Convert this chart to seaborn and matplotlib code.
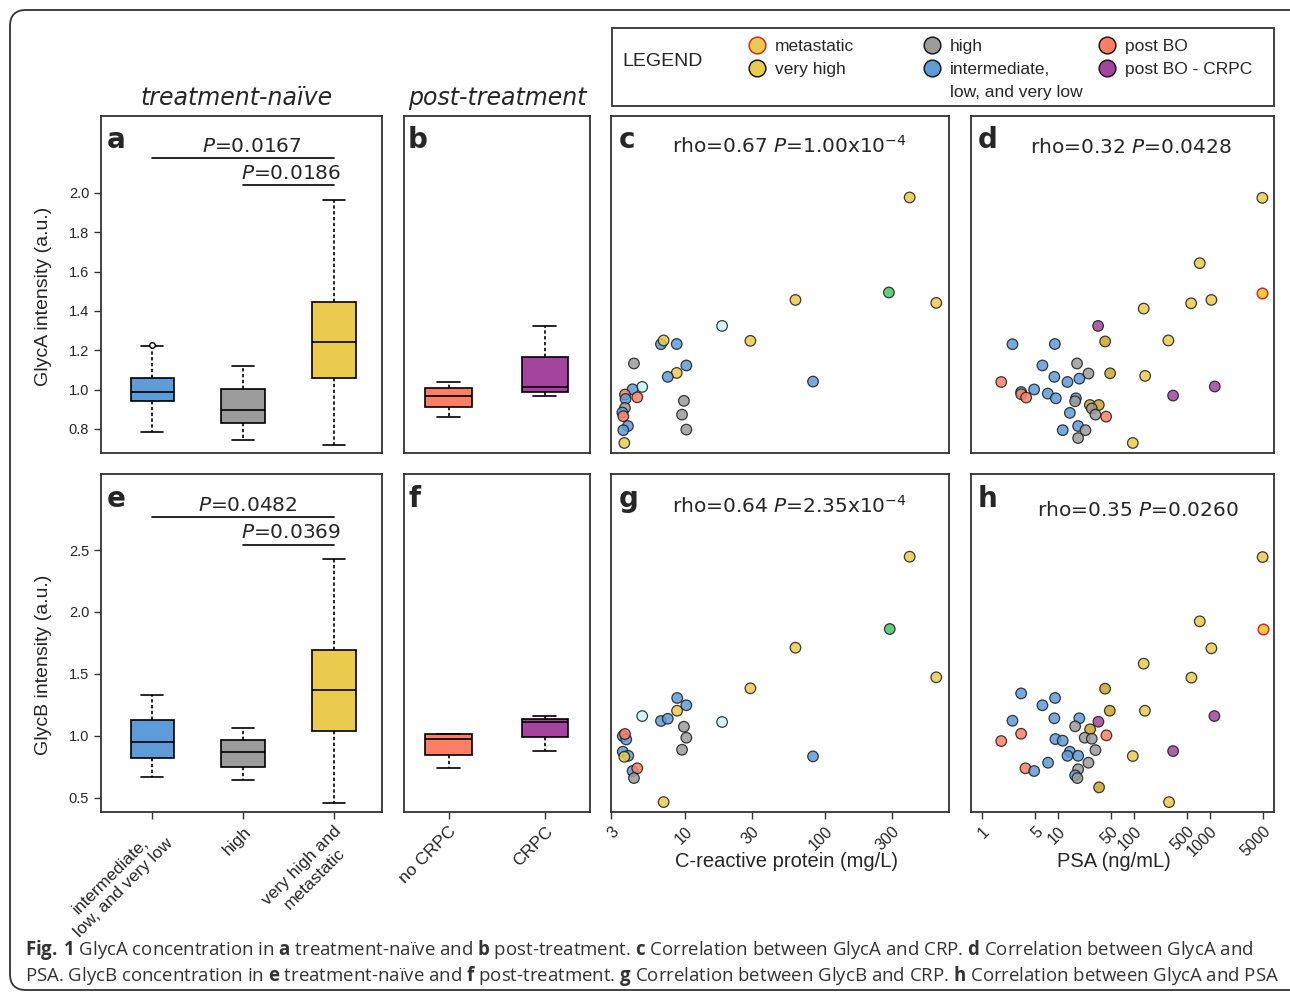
import numpy as np
import pandas as pd
import matplotlib
matplotlib.use("Agg")
import matplotlib.pyplot as plt
import seaborn as sns
from matplotlib import font_manager
from matplotlib.lines import Line2D
from matplotlib.patches import Rectangle, FancyBboxPatch
from matplotlib.transforms import IdentityTransform
from matplotlib.ticker import NullLocator

sns.set_style("ticks")
plt.rcParams["font.family"] = ["Liberation Sans", "DejaVu Sans"]
installed = {f.name for f in font_manager.fontManager.ttflist}
cap_font = "Liberation Sans Narrow" if "Liberation Sans Narrow" in installed else "Open Sans"
plt.rcParams["mathtext.fontset"] = "custom"
plt.rcParams["mathtext.rm"] = "DejaVu Sans"
plt.rcParams["mathtext.it"] = "DejaVu Sans:italic"
plt.rcParams["mathtext.bf"] = cap_font + ":bold"

# ---------------- data ----------------
# box plots: min, q1, median, q3, max per group
groups_naive = ["int", "high", "vhm"]
groups_post = ["nocrpc", "crpc"]
naive_labels = ["intermediate,\nlow, and very low", "high", "very high and\nmetastatic"]
post_labels = ["no CRPC", "CRPC"]

glyca_int = [0.787, 0.944, 0.987, 1.058, 1.224]
glyca_high = [0.746, 0.828, 0.899, 1.004, 1.122]
glyca_vhm = [0.721, 1.061, 1.241, 1.446, 1.966]
glyca_int_outlier = [1.226]
glyca_nocrpc = [0.861, 0.911, 0.968, 1.009, 1.039]
glyca_crpc = [0.968, 0.988, 1.012, 1.168, 1.322]

glycb_int = [0.664, 0.822, 0.952, 1.124, 1.326]
glycb_high = [0.645, 0.745, 0.871, 0.965, 1.060]
glycb_vhm = [0.454, 1.040, 1.369, 1.692, 2.427]
glycb_nocrpc = [0.736, 0.844, 0.976, 1.011, 1.016]
glycb_crpc = [0.876, 0.992, 1.108, 1.137, 1.159]

pvals_a = ["0.0167", "0.0186"]
pvals_e = ["0.0482", "0.0369"]

# scatter: GlycA vs CRP (c)
crp_c = [399, 284, 617, 61.5, 18.5, 29.4, 6.8, 7.1, 8.8, 4.37, 10.3, 8.8, 7.6, 82,
         5.0, 4.27, 4.61, 3.77, 3.81, 3.77, 3.61, 3.67, 9.9, 9.6, 10.3, 3.96, 3.67, 3.73]
glyca_c = [1.977, 1.494, 1.441, 1.456, 1.324, 1.248, 1.231, 1.250, 1.232, 1.133, 1.123, 1.085, 1.065, 1.041,
           1.014, 1.002, 0.961, 0.975, 0.953, 0.907, 0.884, 0.865, 0.943, 0.873, 0.797, 0.815, 0.794, 0.729]
grp_c = ["vh", "grn", "vh", "vh", "cyn", "vh", "int", "vh", "int", "hi", "int", "vh", "int", "int",
         "cyn", "int", "bo", "bo", "int", "hi", "int", "bo", "hi", "hi", "hi", "int", "int", "vh"]

# scatter: GlycA vs PSA (d)
psa_d = [4920, 738, 4920, 568, 1050, 135, 33.9, 41.9, 285, 2.53, 9.14, 17.9, 6.27, 25.3, 48.8, 141,
         9.0, 19.2, 13.4, 1.80, 1163, 4.88, 3.29, 3.29, 3.83, 7.38, 9.42, 329, 17.3, 16.9, 26.4, 34.6,
         28.0, 31.3, 43.2, 14.4, 18.5, 23.1, 11.6, 18.5, 97]
glyca_d = [1.975, 1.643, 1.492, 1.439, 1.456, 1.412, 1.324, 1.245, 1.250, 1.231, 1.232, 1.133, 1.123, 1.082,
           1.083, 1.070, 1.065, 1.056, 1.039, 1.039, 1.016, 1.001, 0.988, 0.977, 0.960, 0.980, 0.956, 0.970,
           0.956, 0.941, 0.922, 0.922, 0.904, 0.873, 0.863, 0.882, 0.815, 0.794, 0.794, 0.754, 0.729]
grp_d = ["vh", "vh", "meta", "vh", "vh", "vh", "crpc", "vh2", "vh", "int", "int", "hi", "int", "hi",
         "vh2", "vh", "int", "int", "int", "bo", "crpc", "int", "int", "bo", "bo", "int", "int", "crpc",
         "int", "hi", "vh2", "vh2", "hi", "hi", "bo", "int", "int", "hi", "int", "hi", "vh"]

# scatter: GlycB vs CRP (g)
crp_g = [399, 288, 61.5, 617, 29.4, 8.87, 10.3, 8.85, 5.0, 6.8, 7.6, 18.5, 9.9, 10.3, 9.6, 82,
         3.64, 3.85, 3.77, 3.64, 3.98, 3.73, 4.27, 4.61, 4.37, 7.1]
glycb_g = [2.446, 1.862, 1.711, 1.472, 1.383, 1.305, 1.246, 1.202, 1.159, 1.119, 1.137, 1.111, 1.073,
           0.984, 0.887, 0.833, 0.998, 0.970, 1.014, 0.871, 0.838, 0.830, 0.715, 0.737, 0.658, 0.464]
grp_g = ["vh", "grn", "vh", "vh", "vh", "int", "int", "vh", "cyn", "int", "int", "cyn", "hi",
         "hi", "hi", "int", "int", "int", "bo", "int", "int", "vh", "int", "bo", "hi", "vh"]

# scatter: GlycB vs PSA (h)
psa_h = [4960, 4960, 738, 1050, 135, 573, 41.9, 3.29, 9.2, 6.27, 48.3, 140, 1150, 2.53, 9.0, 19.2,
         34.2, 16.9, 26.6, 3.29, 43.6, 22.6, 28.0, 9.3, 11.6, 1.80, 31.3, 329, 14.4, 13.4, 18.5, 97,
         25.3, 7.44, 3.75, 4.88, 18.5, 16.9, 18.1, 34.9, 291]
glycb_h = [2.443, 1.862, 1.924, 1.706, 1.582, 1.469, 1.380, 1.342, 1.305, 1.246, 1.202, 1.202, 1.159,
           1.121, 1.141, 1.141, 1.113, 1.076, 1.052, 1.016, 1.003, 0.984, 0.976, 0.973, 0.960, 0.957,
           0.884, 0.876, 0.871, 0.838, 0.838, 0.836, 0.782, 0.782, 0.737, 0.715, 0.729, 0.680, 0.658,
           0.583, 0.464]
grp_h = ["vh", "meta", "vh", "vh", "vh", "vh", "vh2", "int", "int", "int", "vh2", "vh", "crpc", "int",
         "int", "int", "crpc", "hi", "vh2", "bo", "bo", "hi", "hi", "int", "int", "bo", "hi", "crpc",
         "int", "int", "int", "vh", "hi", "int", "bo", "int", "hi", "int", "hi", "vh2", "vh"]

rho_c = r"rho=0.67 $\mathit{P}$=1.00x10$^{-4}$"
rho_d = r"rho=0.32 $\mathit{P}$=0.0428"
rho_g = r"rho=0.64 $\mathit{P}$=2.35x10$^{-4}$"
rho_h = r"rho=0.35 $\mathit{P}$=0.0260"

crp_ticks = [3, 10, 30, 100, 300]
psa_ticks = [1, 5, 10, 50, 100, 500, 1000, 5000]

pal = {"meta": "#EBCB4E", "vh": "#EBCB4E", "vh2": "#C9A62B", "hi": "#9B9B9B", "int": "#5E9BD9",
       "bo": "#FF7F66", "crpc": "#A4449F", "grn": "#43C862", "cyn": "#C8F5F3"}
box_pal_naive = {"int": "#5E9BD9", "high": "#9B9B9B", "vhm": "#EBCB4E"}
box_pal_post = {"nocrpc": "#FF7F66", "crpc": "#A4449F"}

# ---------------- layout ----------------
W, H = 1290, 993
fig = plt.figure(figsize=(W / 100, H / 100), dpi=100)
fig.patch.set_facecolor("white")


def rect(x0, y0, x1, y1):
    return [x0 / W, 1 - y1 / H, (x1 - x0) / W, (y1 - y0) / H]


SPINE = "#333333"
ROW1_Y = (0.678, 2.391)
ROW2_Y = (0.384, 3.114)


def style_ax(ax):
    for s in ax.spines.values():
        s.set_visible(True)
        s.set_color(SPINE)
        s.set_linewidth(1.3)
    ax.tick_params(direction="out", length=5, width=1, color=SPINE)
    ax.set_xlabel("")
    ax.set_ylabel("")


def panel_letter(ax, letter, y=0.905):
    ax.text(0.022, y, letter, transform=ax.transAxes, fontsize=20, fontweight="bold",
            family="DejaVu Sans", va="baseline", ha="left")


def draw_box(ax, cats, values, palette):
    df = pd.DataFrame({"grp": np.repeat(cats, [len(v) for v in values]),
                       "val": np.concatenate(values)})
    sns.boxplot(data=df, x="grp", y="val", hue="grp", order=cats, hue_order=cats,
                palette=palette, saturation=1, width=0.48, whis=(0, 100), fliersize=0,
                linecolor="black", linewidth=1.2, legend=False, ax=ax,
                whiskerprops={"linestyle": (0, (2, 1.5))})


def p_bracket(ax, x0, x1, y, xt, text):
    ax.plot([x0, x1], [y, y], color="black", lw=1.2)
    ax.annotate(text, (xt, y), xytext=(0, 4.5), textcoords="offset points",
                ha="center", va="baseline", fontsize=14.5, family="DejaVu Sans")


def draw_scatter(ax, xs, ys, grps):
    df = pd.DataFrame({"x": xs, "y": ys, "grp": grps})
    main = df[df.grp != "meta"]
    sns.scatterplot(data=main, x="x", y="y", hue="grp", palette=pal, s=58,
                    edgecolor="#1a1a1a", linewidth=0.9, alpha=0.85, legend=False, ax=ax)
    meta = df[df.grp == "meta"]
    if len(meta):
        sns.scatterplot(data=meta, x="x", y="y", color=pal["meta"], s=58,
                        edgecolor="#E0281C", linewidth=1.1, legend=False, ax=ax)
    ax.set_xscale("log")


# panel a
ax_a = fig.add_axes(rect(101, 116, 382, 453))
draw_box(ax_a, groups_naive, [glyca_int, glyca_high, glyca_vhm], box_pal_naive)
sns.stripplot(x=["int"], y=glyca_int_outlier, order=groups_naive, jitter=False, color="white",
              edgecolor="black", linewidth=1, size=4, ax=ax_a, legend=False)
ax_a.set_xlim(-0.566, 2.53)
ax_a.set_ylim(*ROW1_Y)
style_ax(ax_a)
ax_a.set_yticks([0.8, 1.0, 1.2, 1.4, 1.6, 1.8, 2.0])
ax_a.set_yticklabels(["0.8", "1.0", "1.2", "1.4", "1.6", "1.8", "2.0"], fontsize=10.5)
ax_a.tick_params(bottom=False, labelbottom=False)
ax_a.set_ylabel("GlycA intensity (a.u.)", fontsize=14)
ax_a.yaxis.set_label_coords(-0.175, 0.464)
p_bracket(ax_a, 0, 2, 2.175, 1.1, r"$\mathit{P}$=" + pvals_a[0])
p_bracket(ax_a, 1, 2, 2.038, 1.53, r"$\mathit{P}$=" + pvals_a[1])
panel_letter(ax_a, "a")

# panel b
ax_b = fig.add_axes(rect(404, 116, 590, 453))
draw_box(ax_b, groups_post, [glyca_nocrpc, glyca_crpc], box_pal_post)
ax_b.set_xlim(-0.462, 1.469)
ax_b.set_ylim(*ROW1_Y)
style_ax(ax_b)
ax_b.tick_params(bottom=False, labelbottom=False, left=False, labelleft=False)
panel_letter(ax_b, "b")

# panel e
ax_e = fig.add_axes(rect(101, 474, 382, 812))
draw_box(ax_e, groups_naive, [glycb_int, glycb_high, glycb_vhm], box_pal_naive)
ax_e.set_xlim(-0.566, 2.53)
ax_e.set_ylim(*ROW2_Y)
style_ax(ax_e)
ax_e.set_yticks([0.5, 1.0, 1.5, 2.0, 2.5])
ax_e.set_yticklabels(["0.5", "1.0", "1.5", "2.0", "2.5"], fontsize=10.5)
ax_e.set_xticks(range(3))
ax_e.set_xticklabels(naive_labels, rotation=45, ha="right", rotation_mode="anchor",
                     multialignment="center", fontsize=12.5)
ax_e.set_ylabel("GlycB intensity (a.u.)", fontsize=14)
ax_e.yaxis.set_label_coords(-0.175, 0.435)
p_bracket(ax_e, 0, 2, 2.764, 1.05, r"$\mathit{P}$=" + pvals_e[0])
p_bracket(ax_e, 1, 2, 2.543, 1.53, r"$\mathit{P}$=" + pvals_e[1])
panel_letter(ax_e, "e", 0.902)

# panel f
ax_f = fig.add_axes(rect(404, 474, 590, 812))
draw_box(ax_f, groups_post, [glycb_nocrpc, glycb_crpc], box_pal_post)
ax_f.set_xlim(-0.462, 1.469)
ax_f.set_ylim(*ROW2_Y)
style_ax(ax_f)
ax_f.tick_params(left=False, labelleft=False)
ax_f.set_xticks(range(2))
ax_f.set_xticklabels(post_labels, rotation=45, ha="right", rotation_mode="anchor", fontsize=12.5)
panel_letter(ax_f, "f", 0.902)

# scatter panels
scatter_specs = [
    ((611, 116, 949, 453), crp_c, glyca_c, grp_c, ROW1_Y, (3, 760), "c", rho_c, (0.527, 0.891), False),
    ((971, 116, 1274, 453), psa_d, glyca_d, grp_d, ROW1_Y, (0.72, 7000), "d", rho_d, (0.528, 0.891), False),
    ((611, 474, 949, 812), crp_g, glycb_g, grp_g, ROW2_Y, (3, 760), "g", rho_g, (0.527, 0.886), True),
    ((971, 474, 1274, 812), psa_h, glycb_h, grp_h, ROW2_Y, (0.72, 7000), "h", rho_h, (0.551, 0.876), True),
]
for box, xs, ys, gs, ylim, xlim, letter, rho, rho_pos, bottom in scatter_specs:
    ax = fig.add_axes(rect(*box))
    draw_scatter(ax, xs, ys, gs)
    ax.set_xlim(*xlim)
    ax.set_ylim(*ylim)
    style_ax(ax)
    ax.xaxis.set_minor_locator(NullLocator())
    ax.tick_params(left=False, labelleft=False)
    if bottom:
        ticks = crp_ticks if letter == "g" else psa_ticks
        ax.set_xticks(ticks)
        ax.set_xticklabels([str(t) for t in ticks], rotation=45, ha="right",
                           rotation_mode="anchor", fontsize=11.5)
        if letter == "g":
            ax.set_xlabel("C-reactive protein (mg/L)", fontsize=14.5)
            ax.xaxis.set_label_coords(0.52, -0.118)
        else:
            ax.set_xlabel("PSA (ng/mL)", fontsize=14.5)
            ax.xaxis.set_label_coords(0.472, -0.118)
    else:
        ax.tick_params(bottom=False, labelbottom=False)
    ax.text(rho_pos[0], rho_pos[1], rho, transform=ax.transAxes, ha="center", va="baseline",
            fontsize=14.5, family="DejaVu Sans")
    panel_letter(ax, letter, 0.905 if not bottom else 0.902)

# group titles
fig.text(237 / W, 1 - 105 / H, "treatment-naïve", ha="center", va="baseline",
         fontsize=17, style="italic", family="DejaVu Sans")
fig.text(497 / W, 1 - 105 / H, "post-treatment", ha="center", va="baseline",
         fontsize=17, style="italic", family="DejaVu Sans")

# legend box
fig.add_artist(Rectangle((612 / W, 1 - 106 / H), 662 / W, 78 / H, transform=fig.transFigure,
                         fill=False, ec=SPINE, lw=1.3))
fig.text(622 / W, 1 - 61 / H, "LEGEND", fontsize=14, va="center", ha="left")


def mk(face, edge="#1a1a1a"):
    return Line2D([], [], linestyle="none", marker="o", markersize=12,
                  markerfacecolor=face, markeredgecolor=edge, markeredgewidth=1.1)


legend_cols = [
    (757, [mk(pal["meta"], "#E0281C"), mk(pal["vh"])], ["metastatic", "very high"]),
    (932, [mk(pal["hi"]), mk(pal["int"]), Line2D([], [], linestyle="none")],
     ["high", "intermediate,", "low, and very low"]),
    (1107, [mk(pal["bo"]), mk(pal["crpc"])], ["post BO", "post BO - CRPC"]),
]
for xc, hs, ls in legend_cols:
    fig.legend(hs, ls, loc="upper left", bbox_to_anchor=((xc - 8.7) / W, 1 - 39 / H),
               frameon=False, borderpad=0, borderaxespad=0, handlelength=1.0,
               handletextpad=0.53, labelspacing=0.45, fontsize=12.5)

# outer rounded frame
fig.add_artist(FancyBboxPatch((10, 3), 1300, 980, boxstyle="round,pad=0,rounding_size=16",
                              transform=IdentityTransform(), fill=False, ec=SPINE, lw=1.3))

# caption
cap1 = (r"$\mathbf{Fig.\,1}$ GlycA concentration in $\mathbf{a}$ treatment-naïve and $\mathbf{b}$ "
        r"post-treatment. $\mathbf{c}$ Correlation between GlycA and CRP. $\mathbf{d}$ Correlation "
        r"between GlycA and")
cap2 = (r"PSA. GlycB concentration in $\mathbf{e}$ treatment-naïve and $\mathbf{f}$ post-treatment. "
        r"$\mathbf{g}$ Correlation between GlycB and CRP. $\mathbf{h}$ Correlation between GlycA and PSA")
t1 = fig.text(25 / W, 1 - 955 / H, cap1, fontsize=12, family=cap_font, color="#333333", va="baseline")
t2 = fig.text(25 / W, 1 - 981 / H, cap2, fontsize=12, family=cap_font, color="#333333", va="baseline")
fig.canvas.draw()
r = fig.canvas.get_renderer()
w1 = t1.get_window_extent(r).width
w2 = t2.get_window_extent(r).width
fs = 12 * min(1237 / w1, 1251 / w2)
t1.set_fontsize(fs)
t2.set_fontsize(fs)

fig.savefig("out.png", dpi=100, facecolor="white")
